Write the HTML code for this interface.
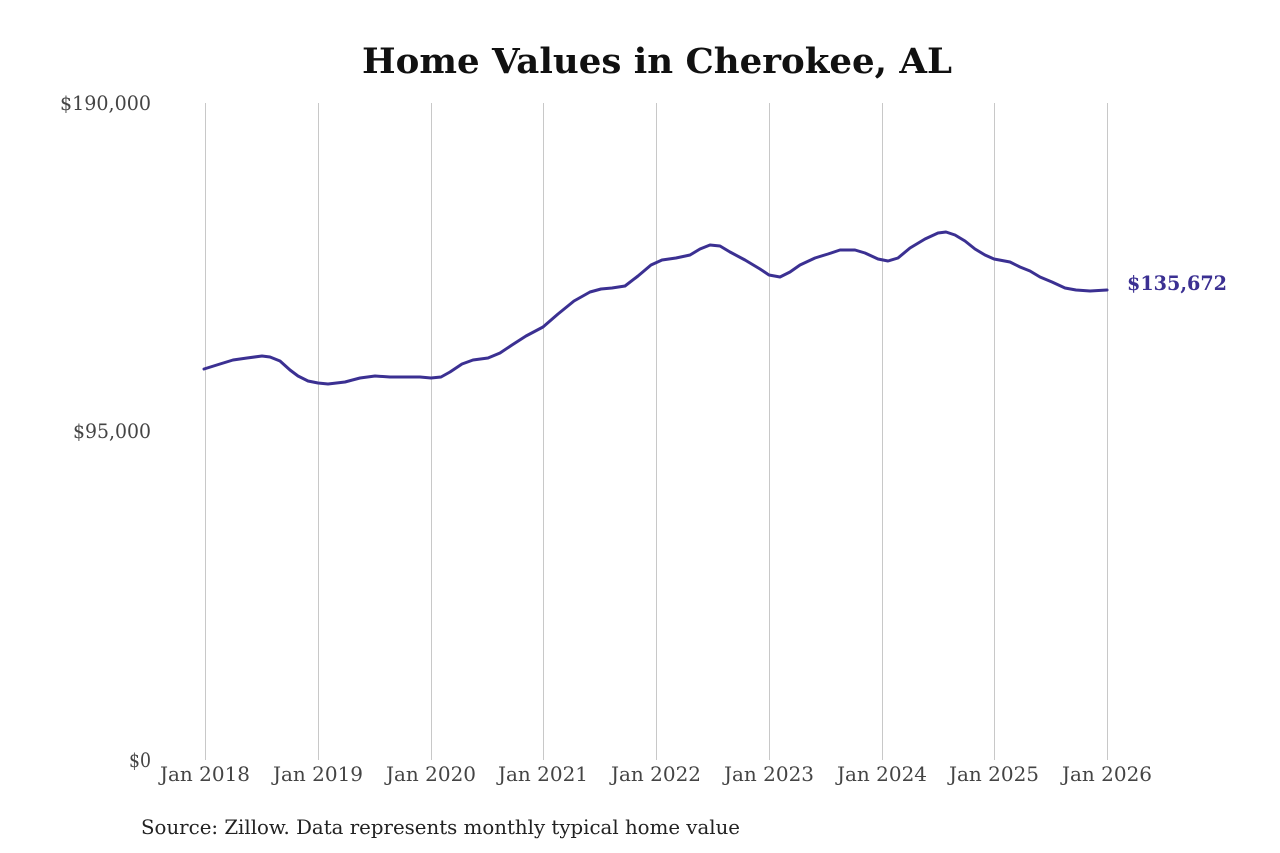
<!DOCTYPE html>
<html><head><meta charset="utf-8"><style>
html,body{margin:0;padding:0;background:#fff;}
svg{display:block;}
</style></head><body>
<svg width="1280" height="853" viewBox="0 0 1280 853" xmlns="http://www.w3.org/2000/svg">
<rect width="1280" height="853" fill="#fff"/>
<text x="362" y="73" textLength="590" lengthAdjust="spacingAndGlyphs" font-family="DejaVu Serif, Liberation Serif, serif" font-weight="bold" font-size="35" fill="#111">Home Values in Cherokee, AL</text>
<g stroke="#c8c8c8" stroke-width="1">
<line x1="205.5" y1="103" x2="205.5" y2="760"/>
<line x1="318.5" y1="103" x2="318.5" y2="760"/>
<line x1="431.5" y1="103" x2="431.5" y2="760"/>
<line x1="543.5" y1="103" x2="543.5" y2="760"/>
<line x1="656.5" y1="103" x2="656.5" y2="760"/>
<line x1="769.5" y1="103" x2="769.5" y2="760"/>
<line x1="882.5" y1="103" x2="882.5" y2="760"/>
<line x1="994.5" y1="103" x2="994.5" y2="760"/>
<line x1="1107.5" y1="103" x2="1107.5" y2="760"/>
</g>
<g font-family="DejaVu Serif, Liberation Serif, serif" font-size="19.5" fill="#444">
<text x="60" y="110" textLength="91" lengthAdjust="spacingAndGlyphs">$190,000</text>
<text x="73" y="438" textLength="78" lengthAdjust="spacingAndGlyphs">$95,000</text>
<text x="129" y="767" textLength="22" lengthAdjust="spacingAndGlyphs">$0</text>
</g>
<g font-family="DejaVu Serif, Liberation Serif, serif" font-size="19.5" fill="#444">
<text x="160" y="781" textLength="90" lengthAdjust="spacingAndGlyphs">Jan 2018</text>
<text x="273" y="781" textLength="90" lengthAdjust="spacingAndGlyphs">Jan 2019</text>
<text x="386" y="781" textLength="90" lengthAdjust="spacingAndGlyphs">Jan 2020</text>
<text x="498" y="781" textLength="90" lengthAdjust="spacingAndGlyphs">Jan 2021</text>
<text x="611" y="781" textLength="90" lengthAdjust="spacingAndGlyphs">Jan 2022</text>
<text x="724" y="781" textLength="90" lengthAdjust="spacingAndGlyphs">Jan 2023</text>
<text x="837" y="781" textLength="90" lengthAdjust="spacingAndGlyphs">Jan 2024</text>
<text x="949" y="781" textLength="90" lengthAdjust="spacingAndGlyphs">Jan 2025</text>
<text x="1062" y="781" textLength="90" lengthAdjust="spacingAndGlyphs">Jan 2026</text>
</g>
<polyline fill="none" stroke="#3b3092" stroke-width="3" stroke-linejoin="round" stroke-linecap="round"
points="204,369 220,364 233,360 247,358 262,356 270,357 280,361 290,370 298,376 308,381 318,383 328,384 345,382 360,378 375,376 390,377 405,377 420,377 431,378 441,377 450,372 462,364 473,360 488,358 500,353 512,345 526,336 543,327 558,314 574,301 590,292 601,289 612,288 625,286 638,276 651,265 662,260 676,258 690,255 700,249 710,245 720,246 730,252 745,260 760,269 769,275 780,277 790,272 800,265 815,258 828,254 840,250 855,250 865,253 878,259 888,261 898,258 910,248 925,239 938,233 946,232 955,235 965,241 975,249 985,255 994,259 1010,262 1020,267 1030,271 1040,277 1052,282 1065,288 1076,290 1090,291 1107,290"/>
<text x="1127" y="290" textLength="100" lengthAdjust="spacingAndGlyphs" font-family="DejaVu Serif, Liberation Serif, serif" font-weight="bold" font-size="19.5" fill="#3b3092">$135,672</text>
<text x="141" y="834" textLength="599" lengthAdjust="spacingAndGlyphs" font-family="DejaVu Serif, Liberation Serif, serif" font-size="19.5" fill="#222">Source: Zillow. Data represents monthly typical home value</text>
</svg>
</body></html>
